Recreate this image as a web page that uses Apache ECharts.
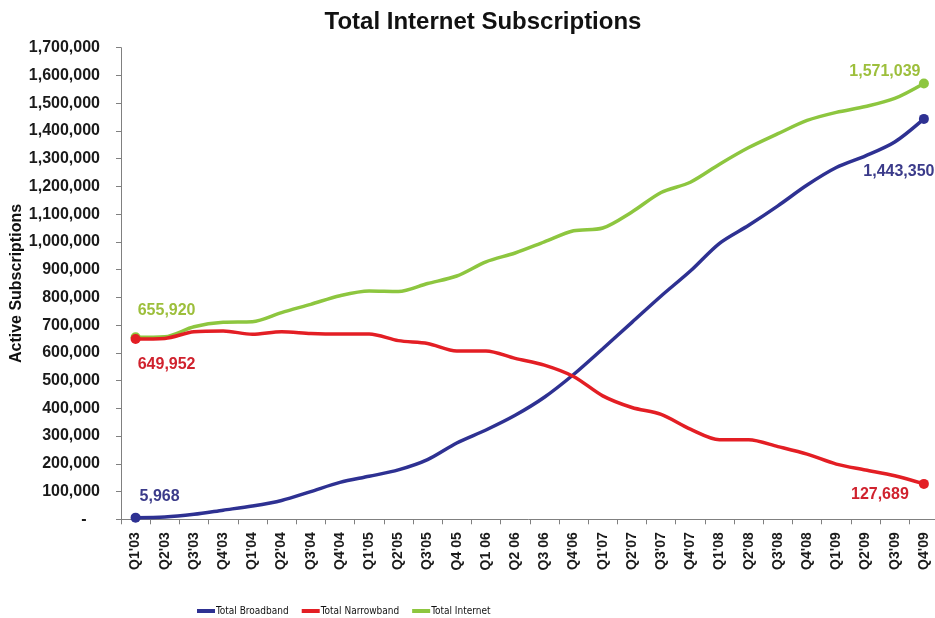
<!DOCTYPE html>
<html>
<head>
<meta charset="utf-8">
<script src="https://cdn.jsdelivr.net/npm/echarts@6/dist/echarts.min.js"></script>
<style>
html,body{margin:0;padding:0;background:#fff;}
#chart{width:935px;height:618px;}
</style>
</head>
<body>
<div id="chart"></div>
<script>
const categories = ["Q1'03","Q2'03","Q3'03","Q4'03","Q1'04","Q2'04","Q3'04","Q4'04","Q1'05","Q2'05","Q3'05","Q4 05","Q1 06","Q2 06","Q3 06","Q4'06","Q1'07","Q2'07","Q3'07","Q4'07","Q1'08","Q2'08","Q3'08","Q4'08","Q1'09","Q2'09","Q3'09","Q4'09"];

const broadband = [5968, 8000, 18000, 33000, 48000, 68000, 100000, 133000, 155000, 178000, 215000, 275000, 322000, 375000, 440000, 522000, 615000, 710000, 805000, 895000, 995000, 1060000, 1130000, 1205000, 1268000, 1310000, 1360000, 1443350];

const narrowband = [649952, 652000, 676000, 679000, 667000, 676000, 670000, 668000, 668000, 644000, 634000, 607000, 607000, 580000, 556000, 515000, 445000, 403000, 378000, 325000, 287000, 287000, 262000, 235000, 199000, 178000, 157000, 127689];

const internet = [655920, 658000, 694000, 710000, 712000, 745000, 775000, 806000, 823000, 821000, 850000, 877000, 928000, 960000, 1000000, 1040000, 1050000, 1108000, 1178000, 1215000, 1280000, 1340000, 1390000, 1438000, 1467000, 1488000, 1517000, 1571039];

const seriesNames = ['Total Broadband', 'Total Narrowband', 'Total Internet'];
const lineColors = ['#2e3192', '#e31e24', '#8dc63f'];
const labelColors = ['#3b3b8a', '#d0222e', '#9dbf3c'];

const FONT = '"Liberation Sans", Arial, sans-serif';
const NARROW = '"Liberation Sans Narrow", "Arial Narrow", "DejaVu Sans Condensed", sans-serif';

function fmt(v) {
  if (v === 0) return '-   ';
  return v.toLocaleString('en-US');
}

function buildData(values, color, firstOffset, lastOffset) {
  const n = values.length;
  return values.map(function (v, i) {
    if (i === 0 || i === n - 1) {
      return {
        value: v,
        symbol: 'circle',
        symbolSize: 10,
        label: {
          show: true,
          position: 'inside',
          offset: i === 0 ? firstOffset : lastOffset,
          formatter: function (p) { return fmt(p.value); },
          color: color,
          fontFamily: FONT,
          fontWeight: 'bold',
          fontSize: 16
        }
      };
    }
    return { value: v, symbol: 'none', symbolSize: 0 };
  });
}

const chart = echarts.init(document.getElementById('chart'), null, { renderer: 'canvas' });

const seriesValues = [broadband, narrowband, internet];
const firstOffsets = [[24, -21], [31, 26], [31, -27]];
const lastOffsets = [[-25, 53], [-44, 11], [-39, -12]];

chart.setOption({
  backgroundColor: '#ffffff',
  animation: false,
  title: {
    text: 'Total Internet Subscriptions',
    left: 478,
    top: 5,
    textAlign: 'center',
    textStyle: { fontFamily: FONT, fontWeight: 'bold', fontSize: 24, color: '#111' }
  },
  legend: {
    data: seriesNames,
    left: 192,
    top: 601,
    icon: 'rect',
    itemWidth: 18,
    itemHeight: 4,
    itemGap: 13,
    textStyle: { fontFamily: NARROW, fontSize: 10, color: '#111', padding: [0, 0, 0, -4] }
  },
  grid: { left: 121, right: -3.5, top: 47.7, bottom: 98.7, containLabel: false, outerBoundsMode: 'none' },
  xAxis: {
    type: 'category',
    data: categories,
    boundaryGap: true,
    axisLine: { lineStyle: { color: '#808080', width: 1 } },
    axisTick: { show: true, length: 5, interval: 0, lineStyle: { color: '#808080' } },
    axisLabel: {
      interval: 0,
      rotate: 90,
      margin: 13,
      fontFamily: FONT,
      fontWeight: 'bold',
      fontSize: 14,
      color: '#1a1a1a'
    },
    splitLine: { show: false }
  },
  yAxis: {
    type: 'value',
    min: 0,
    max: 1700000,
    interval: 100000,
    name: 'Active Subscriptions',
    nameLocation: 'middle',
    nameGap: 96,
    nameMoveOverlap: false,
    nameTextStyle: { fontFamily: FONT, fontWeight: 'bold', fontSize: 16, color: '#111' },
    axisLine: { show: true, lineStyle: { color: '#808080', width: 1 } },
    axisTick: { show: true, length: 5, lineStyle: { color: '#808080' } },
    axisLabel: {
      margin: 21,
      formatter: fmt,
      fontFamily: FONT,
      fontWeight: 'bold',
      fontSize: 16,
      color: '#1a1a1a'
    },
    splitLine: { show: false }
  },
  series: seriesValues.map(function (vals, k) {
    return {
      name: seriesNames[k],
      type: 'line',
      smooth: 0.3,
      showSymbol: true,
      data: buildData(vals, labelColors[k], firstOffsets[k], lastOffsets[k]),
      lineStyle: { color: lineColors[k], width: 3.5 },
      itemStyle: { color: lineColors[k] },
      emphasis: { disabled: true },
      z: k === 2 ? 1 : 2
    };
  })
});
</script>
</body>
</html>
